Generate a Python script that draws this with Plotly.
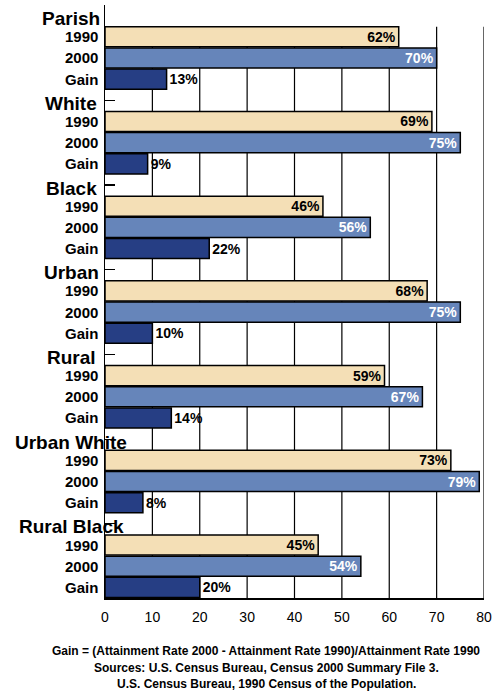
import plotly.graph_objects as go

groups = ["Parish", "White", "Black", "Urban", "Rural", "Urban White", "Rural Black"]
rate_1990 = [62, 69, 46, 68, 59, 73, 45]
rate_2000 = [70, 75, 56, 75, 67, 79, 54]
gain = [13, 9, 22, 10, 14, 8, 20]
row_labels = ["1990", "2000", "Gain"]
x_ticks = [0, 10, 20, 30, 40, 50, 60, 70, 80]
footnotes = [
    "Gain = (Attainment Rate 2000 - Attainment Rate 1990)/Attainment Rate 1990",
    "Sources: U.S. Census Bureau, Census 2000 Summary File 3.",
    "U.S. Census Bureau, 1990 Census of the Population.",
]

FONT = "Liberation Sans, Arial, Helvetica, sans-serif"
C1990 = "#F4DFB6"
C2000 = "#6685BA"
CGAIN = "#263E84"

n = len(groups)
header_rows = [4 * g for g in range(n)]
rows_1990 = [4 * g + 1 for g in range(n)]
rows_2000 = [4 * g + 2 for g in range(n)]
rows_gain = [4 * g + 3 for g in range(n)]
nrows = 4 * n

fig = go.Figure()

def add_bars(vals, rows, color, pos, tcolor):
    fig.add_trace(go.Bar(
        x=vals, y=rows, orientation="h", width=0.95,
        marker=dict(color=color, line=dict(color="black", width=1.5)),
        text=[f"{v}%" for v in vals], textposition=pos,
        insidetextanchor="end", constraintext="none", cliponaxis=False,
        textfont=dict(family=FONT, size=14, color=tcolor, weight="bold"),
        hoverinfo="skip", showlegend=False,
    ))

# gridlines (drawn below bars)
shapes = []
for t in x_ticks[1:]:
    shapes.append(dict(type="line", xref="x", yref="y", x0=t, x1=t,
                       y0=1 - 0.475, y1=nrows - 0.5, layer="below",
                       line=dict(color="black", width=1.2)))

add_bars(rate_1990, rows_1990, C1990, "inside", "black")
add_bars(rate_2000, rows_2000, C2000, "inside", "white")
add_bars(gain, rows_gain, CGAIN, "outside", "black")

annotations = []
for g, name in enumerate(groups):
    annotations.append(dict(
        text=f"<b>{name}</b>", xref="paper", yref="y",
        x=(71 - 105) / 379, y=header_rows[g], yshift=-3,
        xanchor="center", yanchor="middle", showarrow=False,
        font=dict(family=FONT, size=19, color="black")))
    for lab, r in zip(row_labels, [rows_1990[g], rows_2000[g], rows_gain[g]]):
        annotations.append(dict(
            text=f"<b>{lab}</b>", xref="paper", yref="y",
            x=0, xshift=-5, y=r, xanchor="right", yanchor="middle",
            showarrow=False, font=dict(family=FONT, size=15, color="black")))

for i, (line, py) in enumerate(zip(footnotes, [651, 668, 684])):
    annotations.append(dict(
        text=f"<b>{line}</b>", xref="paper", yref="paper",
        x=(266 - 105) / 379, y=(598 - py) / 593,
        xanchor="center", yanchor="middle", showarrow=False,
        font=dict(family=FONT, size=12, color="black")))

fig.update_layout(
    width=503, height=700,
    margin=dict(l=105, r=19, t=5, b=102, pad=0),
    paper_bgcolor="white", plot_bgcolor="white",
    barmode="overlay",
    shapes=shapes, annotations=annotations,
    xaxis=dict(range=[0, 80], tickvals=x_ticks, showgrid=False, zeroline=False,
               showline=True, linecolor="black", linewidth=1.5, ticks="",
               ticklabelstandoff=6,
               tickfont=dict(family=FONT, size=14, color="black")),
    yaxis=dict(range=[nrows - 0.5, -0.5], showgrid=False, zeroline=False,
               showline=True, linecolor="black", linewidth=1.5,
               tickvals=header_rows[1:], ticks="inside", ticklen=10,
               tickcolor="black", tickwidth=1.2, showticklabels=False),
)

fig.write_html("out.html",
               config={"displayModeBar": False, "staticPlot": True},
               post_script="document.body.style.margin='0';document.body.style.overflow='hidden';")
